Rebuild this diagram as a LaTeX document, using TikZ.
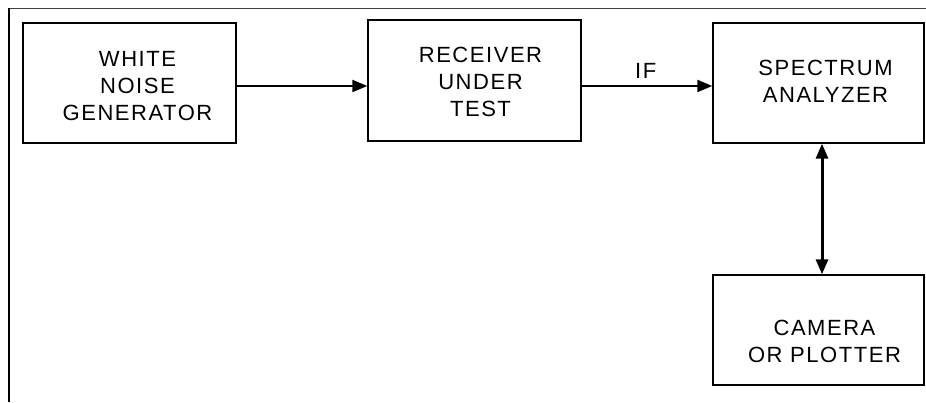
\documentclass[tikz,border=0pt]{standalone}
\usepackage{fontspec}
\setmainfont{Liberation Sans}
\usetikzlibrary{arrows.meta,calc}
\begin{document}
\begin{tikzpicture}[x=1pt,y=-1pt,
  blk/.style={draw=black, line width=1.4pt, rectangle, inner sep=0pt},
  txt/.style={align=center, inner sep=0pt, font=\fontsize{22}{27}\selectfont\addfontfeature{LetterSpace=7}},
  conn/.style={line width=2pt, -{Triangle[length=15pt,width=12pt]}},
  dconn/.style={line width=3pt, {Triangle[length=15pt,width=12pt]}-{Triangle[length=15pt,width=12pt]}},
]
\useasboundingbox (0,0) rectangle (926,402);
% frame
\draw[line width=1pt, black!75] (9,8) -- (926,8);
\draw[line width=2pt] (9,8) -- (9,402);
% boxes
\node[blk, minimum width=213pt, minimum height=120pt] (b1) at (129.5,83) {};
\node[blk, minimum width=213pt, minimum height=121pt] (b2) at (474.5,80.5) {};
\node[blk, minimum width=211pt, minimum height=120pt] (b3) at (818.5,83) {};
\node[blk, minimum width=211pt, minimum height=110pt] (b4) at (818.5,330) {};
% texts
\node[txt] (t1) at ($(b1.center)+(8,3)$) {WHITE\\NOISE\\GENERATOR};
\node[txt] (t2) at ($(b2.center)+(6,1.5)$) {RECEIVER\\UNDER\\TEST};
\node[txt] (t3) at ($(b3.center)+(7,-1.5)$) {SPECTRUM\\ANALYZER};
\node[txt] (t4) at ($(b4.center)+(6,11)$) {CAMERA\\OR PLOTTER};
% connectors
\coordinate (hy) at (0,86);
\coordinate (vx) at (822,0);
\draw[conn] (b1.east |- hy) -- (b2.west |- hy);
\draw[conn] (b2.east |- hy) -- node[above=7pt, txt, pos=0.49] (if) {IF} (b3.west |- hy);
\draw[dconn] (b3.south -| vx) -- (b4.north -| vx);
\end{tikzpicture}
\end{document}
